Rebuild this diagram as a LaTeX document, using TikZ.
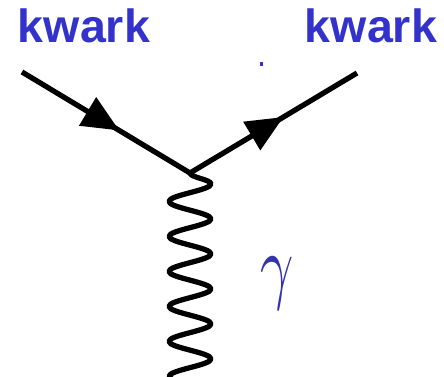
\documentclass[tikz,border=0pt]{standalone}
\usepackage{fontspec}
\setmainfont{Liberation Sans}
\usetikzlibrary{arrows.meta,decorations.markings,decorations.pathmorphing}
\definecolor{kwarkblue}{RGB}{51,51,204}
\definecolor{gammablue}{RGB}{51,51,170}

\tikzset{
  fermion/.style={line width=3pt, postaction={decorate},
    decoration={markings, mark=at position #1 with {\arrow{Triangle[length=0.74cm,width=0.64cm]}}}},
  photon/.style={line width=3pt, line join=round, decorate,
    decoration={snake, segment length=0.7cm, amplitude=0.42cm}},
  kwarklabel/.style={text=kwarkblue, font=\fontsize{26.5}{30}\selectfont\bfseries, inner sep=0pt, anchor=base}
}

\begin{document}
\begin{tikzpicture}[x=0.02cm, y=-0.02cm]
    \useasboundingbox (0,0) rectangle (444,377);

    \coordinate (vertex) at (190,173);
    \coordinate (qin) at (22,72);
    \coordinate (qout) at (357,73);
    \coordinate (gend) at (190,400);

    % quark lines
    \draw [fermion=0.58] (qin) -- (vertex);
    \draw [fermion=0.56] (vertex) -- (qout);

    % photon
    \draw [photon] (vertex) -- (gend);

    \node [kwarklabel] (kwarkin) at (84,43) {kwark};
    \node [kwarklabel] (kwarkout) at (371,43) {kwark};
    \node [text=gammablue, inner sep=0pt] (gamma) at (277,284) {\scalebox{3.3}[4.8]{$\gamma$}};

    \fill [kwarkblue] (260.5,62.5) rectangle (263.5,66.5);
\end{tikzpicture}
\end{document}
